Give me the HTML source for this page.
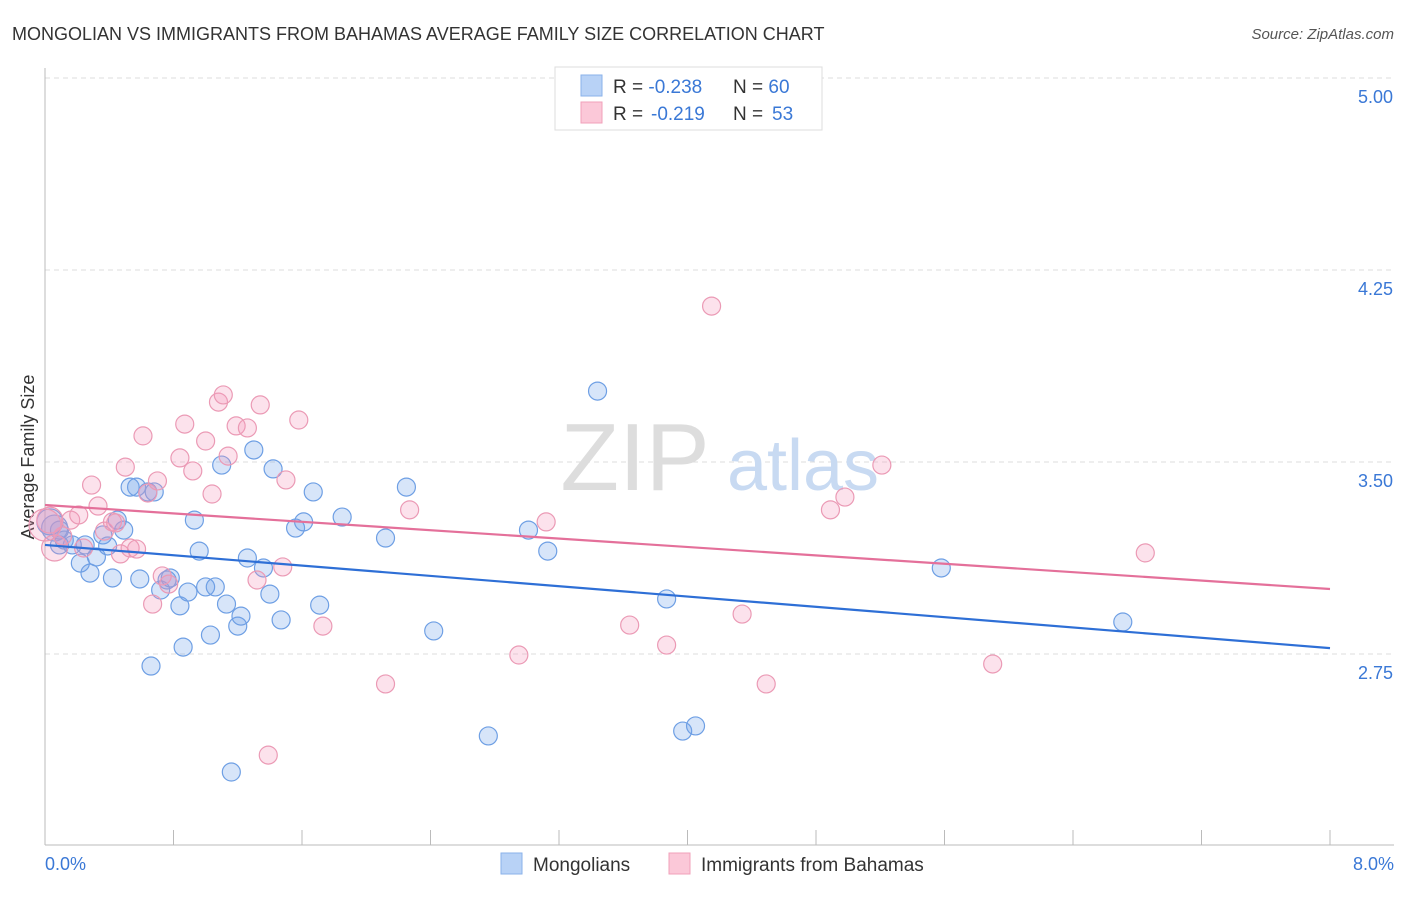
<!DOCTYPE html>
<html><head><meta charset="utf-8">
<style>
body{margin:0;background:#fff;font-family:"Liberation Sans",sans-serif;}
svg text{font-family:"Liberation Sans",sans-serif;}
</style></head>
<body>
<svg id="chart" width="1406" height="892" xmlns="http://www.w3.org/2000/svg">
<text x="12" y="40" font-size="18" fill="#333">MONGOLIAN VS IMMIGRANTS FROM BAHAMAS AVERAGE FAMILY SIZE CORRELATION CHART</text>
<text x="1394" y="39" font-size="15" fill="#555" font-style="italic" text-anchor="end">Source: ZipAtlas.com</text>
<g id="grid"></g>
<g>
<text x="635" y="490" font-size="96" fill="#ddd" font-family="Liberation Serif" text-anchor="middle">ZIP</text>
<text x="803" y="490" font-size="72" fill="#c8daf2" text-anchor="middle">atlas</text>
</g>
<line x1="45" y1="68" x2="45" y2="845" stroke="#bbb"/>
<line x1="45" y1="845" x2="1394" y2="845" stroke="#bbb"/>
<g id="xticks"></g>
<g id="yticks"></g>
<text x="45" y="870" font-size="18" fill="#3a78d6">0.0%</text>
<text x="1394" y="870" font-size="18" fill="#3a78d6" text-anchor="end">8.0%</text>
<text transform="translate(34,457) rotate(-90)" font-size="18" fill="#333" text-anchor="middle">Average Family Size</text>
<g id="pts"></g>
<g id="lines"></g>
<g>
<rect x="555" y="67" width="267" height="63" fill="#fff" stroke="#ddd"/>
<rect x="581" y="75" width="21" height="21" fill="#b8d2f6" stroke="#8ab2ea"/>
<rect x="581" y="102" width="21" height="21" fill="#fbc8d8" stroke="#f0a0ba"/>
<text x="613" y="93" font-size="19" fill="#333">R = <tspan fill="#3a78d6">-0.238</tspan><tspan x="733">N = </tspan><tspan fill="#3a78d6">60</tspan></text>
<text x="613" y="120" font-size="19" fill="#333">R = <tspan fill="#3a78d6" x="651">-0.219</tspan><tspan x="733">N = </tspan><tspan fill="#3a78d6" x="772">53</tspan></text>
</g>
<g>
<rect x="501" y="853" width="21" height="21" fill="#b8d2f6" stroke="#8ab2ea"/>
<text x="533" y="871" font-size="19" fill="#333">Mongolians</text>
<rect x="669" y="853" width="21" height="21" fill="#fbc8d8" stroke="#f0a0ba"/>
<text x="701" y="871" font-size="19" fill="#333">Immigrants from Bahamas</text>
</g>
</svg>
<script>
const yTicks=[5.00,4.25,3.50,2.75];
const blueX=[.06,.09,.12,.17,.22,.25,.28,.32,.36,.39,.42,.45,.49,.53,.57,.59,.64,.66,.68,.72,.76,.78,.84,.86,.89,.93,.96,1.00,1.03,1.06,1.10,1.13,1.16,1.20,1.22,1.26,1.30,1.36,1.40,1.42,1.47,1.56,1.61,1.67,1.71,1.85,2.12,2.25,2.42,2.76,3.01,3.13,3.44,3.87,3.97,4.05,5.58,6.71,.03,.09];
const blueY=[3.242,3.176,3.195,3.176,3.105,3.176,3.066,3.129,3.215,3.172,3.047,3.273,3.234,3.402,3.402,3.043,3.383,2.703,3.383,3.000,3.039,3.047,2.938,2.777,2.992,3.273,3.152,3.012,2.824,3.012,3.488,2.945,2.289,2.859,2.898,3.125,3.547,3.086,2.984,3.473,2.883,3.242,3.266,3.383,2.941,3.285,3.203,3.402,2.840,2.430,3.234,3.152,3.777,2.965,2.449,2.469,3.086,2.875,3.266,3.234];
const pinkX=[.03,.06,.11,.16,.21,.24,.29,.33,.37,.42,.44,.47,.50,.53,.57,.61,.64,.67,.70,.73,.77,.84,.87,.92,1.00,1.04,1.08,1.11,1.14,1.19,1.26,1.32,1.34,1.39,1.48,1.50,1.58,1.73,2.12,2.27,2.95,3.12,3.64,3.87,4.15,4.34,4.49,4.89,4.98,5.21,5.90,6.85,0];
const pinkY=[3.273,3.164,3.211,3.273,3.293,3.164,3.410,3.328,3.230,3.266,3.262,3.141,3.480,3.164,3.160,3.602,3.379,2.945,3.426,3.055,3.023,3.516,3.648,3.465,3.582,3.375,3.734,3.762,3.523,3.641,3.633,3.039,3.723,2.355,3.090,3.430,3.664,2.859,2.633,3.313,2.746,3.266,2.863,2.785,4.109,2.906,2.633,3.313,3.363,3.488,2.711,3.145,3.254];
const blueTrend=[3.176,2.773];
const pinkTrend=[3.332,3.004];
const NS="http://www.w3.org/2000/svg";
const xs=v=>45+v/8*1285;
const ys=v=>78+(5-v)*256;
function mk(tag,attrs,parent){const e=document.createElementNS(NS,tag);for(const k in attrs)e.setAttribute(k,attrs[k]);document.getElementById(parent).appendChild(e);return e;}
yTicks.forEach(t=>{
 const g=mk('line',{x1:45,x2:1394,y1:ys(t),y2:ys(t),stroke:'#ddd','stroke-dasharray':'5,4'},'grid');
 
 
 const tx=mk('text',{x:1393,y:ys(t)+25,'font-size':18,fill:'#3a78d6','text-anchor':'end'},'yticks');
 tx.textContent=t.toFixed(2);
 
 
});
for(let i=0;i<=10;i++){
 const l=mk('line',{x1:xs(i*0.8),x2:xs(i*0.8),y1:830,y2:845,stroke:'#bbb'},'xticks');
 
 
}
function pts(X,Y,fill,stroke,name){
 X.forEach((x,i)=>{
  const r=(x===0)?16:(x<0.07?13:9);
  const c=mk('circle',{cx:xs(x),cy:ys(Y[i]),r:r,fill:fill,stroke:stroke,'stroke-width':1.2},'pts');
  
  
 });
}
pts(blueX,blueY,'rgba(110,160,235,0.28)','#6e9fe4','mongolian-point');
pts(pinkX,pinkY,'rgba(245,150,185,0.28)','#eb9ab5','bahamas-point');
const bl=mk('line',{x1:xs(0),y1:ys(blueTrend[0]),x2:xs(8),y2:ys(blueTrend[1]),stroke:'#2e6fd6','stroke-width':2.2},'lines');


const pl=mk('line',{x1:xs(0),y1:ys(pinkTrend[0]),x2:xs(8),y2:ys(pinkTrend[1]),stroke:'#e4709a','stroke-width':2.2},'lines');


</script>
</body></html>
